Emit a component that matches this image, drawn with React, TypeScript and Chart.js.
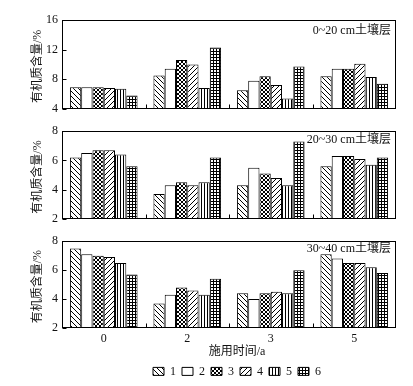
import React, { useEffect, useRef } from "react";
import { Chart, registerables } from "chart.js";

Chart.register(...registerables);

const categories = ["0", "2", "3", "5"];
const treatments = ["1", "2", "3", "4", "5", "6"];
const layerNames = ["0~20 cm土壤层", "20~30 cm土壤层", "30~40 cm土壤层"];
const yTitle = "有机质含量/%";
const xTitle = "施用时间/a";

// each row = one treatment (1..6), columns = categories 0,2,3,5
const soil0to20 = [
  [6.9, 8.5, 6.5, 8.4],
  [6.9, 9.4, 7.8, 9.4],
  [6.9, 10.6, 8.4, 9.4],
  [6.8, 10.0, 7.2, 10.1],
  [6.7, 6.8, 5.4, 8.3],
  [5.8, 12.3, 9.7, 7.4],
];
const soil20to30 = [
  [6.2, 3.7, 4.3, 5.6],
  [6.5, 4.3, 5.5, 6.3],
  [6.7, 4.5, 5.1, 6.3],
  [6.7, 4.3, 4.8, 6.1],
  [6.4, 4.5, 4.3, 5.7],
  [5.6, 6.2, 7.3, 6.2],
];
const soil30to40 = [
  [7.5, 3.7, 4.4, 7.1],
  [7.1, 4.3, 4.0, 6.8],
  [7.0, 4.8, 4.4, 6.5],
  [6.9, 4.6, 4.5, 6.5],
  [6.5, 4.3, 4.4, 6.2],
  [5.7, 5.4, 6.0, 5.8],
];
const yRanges = [
  [4, 16, 4],
  [2, 8, 2],
  [2, 8, 2],
];

const FONT = "'Liberation Serif', 'Noto Sans CJK SC', serif";

function makePattern(kind: number): CanvasPattern | string {
  const c = document.createElement("canvas");
  let s = 5;
  if (kind === 2) s = 4;
  if (kind === 4 || kind === 5) s = 3;
  c.width = s;
  c.height = s;
  const ctx = c.getContext("2d")!;
  ctx.fillStyle = "#fff";
  ctx.fillRect(0, 0, s, s);
  ctx.strokeStyle = "#000";
  ctx.lineWidth = 1;
  ctx.beginPath();
  if (kind === 0 || kind === 2) {
    for (const k of [-s, 0, s]) {
      ctx.moveTo(k, 0);
      ctx.lineTo(k + s, s);
    }
  }
  if (kind === 3 || kind === 2) {
    for (const k of [-s, 0, s]) {
      ctx.moveTo(k, s);
      ctx.lineTo(k + s, 0);
    }
  }
  if (kind === 4 || kind === 5) {
    ctx.moveTo(0.5, 0);
    ctx.lineTo(0.5, s);
  }
  if (kind === 5) {
    ctx.moveTo(0, 0.5);
    ctx.lineTo(s, 0.5);
  }
  ctx.stroke();
  if (kind === 1) return "#fff";
  return ctx.createPattern(c, "repeat")!;
}

function framePlugin(label: string, labelOffset: number) {
  return {
    id: "frame",
    afterDatasetsDraw(chart: any) {
      const { ctx, chartArea: a, scales } = chart;
      ctx.save();
      ctx.strokeStyle = "#000";
      ctx.lineWidth = 1;
      const l = Math.round(a.left) + 0.5;
      const t = Math.round(a.top) + 0.5;
      const r = Math.round(a.right) - 0.5;
      const b = Math.round(a.bottom) - 0.5;
      ctx.strokeRect(l, t, r - l, b - t);
      ctx.beginPath();
      const y = scales.y;
      y.ticks.forEach((tk: any) => {
        const py = Math.round(y.getPixelForValue(tk.value)) + 0.5;
        ctx.moveTo(l, py);
        ctx.lineTo(l + 4, py);
      });
      const x = scales.x;
      for (let i = 1; i < categories.length; i++) {
        const px = Math.round((x.getPixelForValue(i - 1) + x.getPixelForValue(i)) / 2) + 0.5;
        ctx.moveTo(px, b);
        ctx.lineTo(px, b - 4);
      }
      ctx.stroke();
      ctx.fillStyle = "#111";
      ctx.font = "12px " + FONT;
      ctx.textAlign = "right";
      ctx.textBaseline = "middle";
      ctx.fillText(label, a.right - 5, a.top + labelOffset);
      // y-axis title
      ctx.translate(38, (a.top + a.bottom) / 2 + 2);
      ctx.rotate(-Math.PI / 2);
      ctx.textAlign = "center";
      ctx.fillText(yTitle, 0, 0);
      ctx.restore();
    },
  };
}

const panels = [
  { top: 0, height: 120, padTop: 20, padBottom: 5, xHeight: 0, labelOff: 11, data: soil0to20 },
  { top: 120, height: 110, padTop: 7, padBottom: 8, xHeight: 0, labelOff: 8.5, data: soil20to30 },
  { top: 230, height: 120, padTop: 4, padBottom: 2, xHeight: 20, labelOff: 8, data: soil30to40 },
];

export default function App() {
  const refs = [useRef<HTMLCanvasElement>(null), useRef<HTMLCanvasElement>(null), useRef<HTMLCanvasElement>(null)];
  const legendRef = useRef<HTMLCanvasElement>(null);

  useEffect(() => {
    const patterns = treatments.map((_, i) => makePattern(i));
    const charts: Chart[] = [];
    panels.forEach((p, pi) => {
      const [ymin, ymax, step] = yRanges[pi];
      const showX = p.xHeight > 0;
      const chart = new Chart(refs[pi].current!, {
        type: "bar",
        data: {
          labels: categories,
          datasets: treatments.map((t, i) => ({
            label: t,
            data: p.data[i],
            backgroundColor: patterns[i] as any,
            borderColor: "#000",
            borderWidth: 1,
            categoryPercentage: 0.81,
            barPercentage: 1,
          })),
        },
        options: {
          animation: false,
          responsive: false,
          devicePixelRatio: 1,
          layout: { padding: { top: p.padTop, bottom: p.padBottom, left: 0, right: 17 } },
          plugins: { legend: { display: false }, tooltip: { enabled: false }, title: { display: false } },
          scales: {
            x: {
              grid: { display: false, drawTicks: false },
              border: { display: false },
              ticks: { display: showX, color: "#111", font: { size: 12, family: FONT }, padding: 4 },
              afterFit: (s: any) => {
                s.height = p.xHeight;
              },
            },
            y: {
              min: ymin,
              max: ymax,
              grid: { display: false, drawTicks: false },
              border: { display: false },
              ticks: { stepSize: step, color: "#111", font: { size: 12, family: FONT }, padding: 4 },
              afterFit: (s: any) => {
                s.width = 62;
              },
            },
          },
        },
        plugins: [framePlugin(layerNames[pi], p.labelOff)],
      });
      charts.push(chart);
    });

    const legendChart = new Chart(legendRef.current!, {
      type: "bar",
      data: {
        labels: [],
        datasets: treatments.map((t, i) => ({
          label: t,
          data: [],
          backgroundColor: patterns[i] as any,
          borderColor: "#000",
          borderWidth: 1,
        })),
      },
      options: {
        animation: false,
        responsive: false,
        devicePixelRatio: 1,
        layout: { padding: 0 },
        scales: { x: { display: false }, y: { display: false } },
        plugins: {
          tooltip: { enabled: false },
          title: {
            display: true,
            text: xTitle,
            color: "#111",
            font: { size: 12, family: FONT, weight: "normal" },
            padding: { top: 2, bottom: 0 },
          },
          legend: {
            display: true,
            position: "top",
            labels: {
              boxWidth: 11,
              boxHeight: 8,
              padding: 6,
              color: "#111",
              font: { size: 12, family: FONT },
            },
          },
        },
      },
    });
    charts.push(legendChart);

    return () => charts.forEach((c) => c.destroy());
  }, []);

  return (
    <div style={{ position: "absolute", left: 0, top: 0, width: 413, height: 386, overflow: "hidden", background: "#fff" }}>
      {panels.map((p, i) => (
        <canvas
          key={i}
          ref={refs[i]}
          width={413}
          height={p.height}
          style={{ position: "absolute", left: 0, top: p.top, width: 413, height: p.height }}
        />
      ))}
      <canvas
        ref={legendRef}
        width={200}
        height={43}
        style={{ position: "absolute", left: 137, top: 343, width: 200, height: 43 }}
      />
    </div>
  );
}
